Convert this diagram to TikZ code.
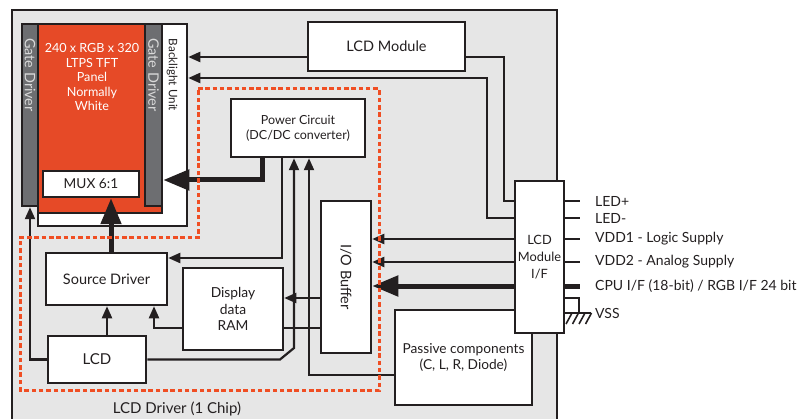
\documentclass[tikz,border=0pt]{standalone}
\usepackage{fontspec}
\setmainfont{Lato}
\usetikzlibrary{arrows.meta,positioning}
\definecolor{lcdInk}{HTML}{231F20}
\definecolor{lcdGrey}{HTML}{E6E6E6}
\definecolor{lcdRed}{HTML}{E64A27}
\definecolor{lcdGate}{HTML}{6D6E71}
\definecolor{lcdDash}{HTML}{F04E23}

\begin{document}
\begin{tikzpicture}[
  x=1pt,y=-1pt,
  >={Triangle[length=12pt,width=10pt]},
  block/.style={draw=lcdInk,fill=white,line width=2.5pt,inner sep=0pt,
                text=lcdInk,font=\fontsize{14.5}{15}\selectfont,align=center},
  label/.style={text=lcdInk,inner sep=0pt,font=\fontsize{14}{15}\selectfont},
  pin/.style={label,anchor=west},
  wire/.style={draw=lcdInk,line width=2.2pt},
  bus/.style={draw=lcdInk,line width=5pt,-{Triangle[length=26pt,width=20pt]}},
]
  \clip (0,0) rectangle (799,419);
  \draw[lcdInk,fill=lcdGrey,line width=2.5pt] (12,10) rectangle (557,440);

  \node[block,minimum width=149pt,minimum height=202pt] (bl) at (112.5,125) {};
  \node[block,fill=lcdRed,minimum width=124pt,minimum height=189pt] (panel) at (100,118.5) {};
  \node[block,fill=lcdGate,minimum width=16pt,minimum height=182pt] (gdl) at (30,115) {};
  \node[block,fill=lcdGate,minimum width=17pt,minimum height=182pt] (gdr) at (153.5,115) {};
  \node[label,rotate=-90,text=gray!30,font=\fontsize{14.4}{15}\selectfont] at (30,75) {Gate Driver};
  \node[label,rotate=-90,text=gray!30,font=\fontsize{14.4}{15}\selectfont] at (153.5,75) {Gate Driver};
  \node[label,rotate=-90,font=\fontsize{11.7}{14}\selectfont] at (172,75) {Backlight Unit};
  \node[label,text=white,align=center,font=\fontsize{12.6}{14.5}\selectfont] (spec) at (92,77)
    {240 x RGB x 320\\LTPS TFT\\Panel\\Normally\\White};
  \node[block,minimum width=96pt,minimum height=26pt,font=\fontsize{13.7}{15}\selectfont]
    (mux) at (91,184) {MUX 6:1};

  \node[block,minimum width=157pt,minimum height=49pt] (lcdmod) at (386.5,46.5) {LCD Module};
  \node[block,minimum width=134pt,minimum height=58pt,font=\fontsize{12.5}{15}\selectfont]
    (pwr) at (298,128) {Power Circuit\\(DC/DC converter)};
  \node[block,minimum width=121pt,minimum height=52pt] (src) at (106.5,279) {Source Driver};
  \node[block,minimum width=100pt,minimum height=82pt,font=\fontsize{13.8}{16.5}\selectfont]
    (ram) at (233,309) {Display\\data\\RAM};
  \node[block,minimum width=98pt,minimum height=47pt,font=\fontsize{15}{15}\selectfont]
    (lcd) at (97,359.5) {LCD};
  \node[block,minimum width=50pt,minimum height=152pt] (iob) at (346,277) {};
  \node[label,rotate=-90,font=\fontsize{14.5}{15}\selectfont] at (iob) {I/O Buffer};
  \node[block,minimum width=137pt,minimum height=95pt,font=\fontsize{13.7}{15.5}\selectfont]
    (pas) at (463.5,357.5) {Passive components\\(C, L, R, Diode)};
  \node[block,minimum width=49pt,minimum height=152pt,font=\fontsize{12.8}{17}\selectfont]
    (mif) at (539.5,257) {LCD\\Module\\I/F};

  \node[pin] (ledp) at (595,201) {LED+};
  \node[pin] (ledm) at (595,218) {LED-};
  \node[pin] (vdda) at (595,239) {VDD1 - Logic Supply};
  \node[pin] (vddb) at (595,262) {VDD2 - Analog Supply};
  \node[pin] (cpu)  at (595,286) {CPU I/F (18-bit) / RGB I/F 24 bit};
  \node[pin] (vss)  at (595,313) {VSS};

  \foreach \p in {ledp,ledm,vdda,vddb}
    \draw[wire] (mif.east |- \p) -- ++(15,0);
  \draw[wire,line width=5pt] (mif.east |- cpu) -- ++(15,0);
  \draw[wire] (mif.east |- 0,298) -| (579,313) coordinate (gnd);
  \draw[wire] ([xshift=-14pt]gnd) -- ++(26,0);
  \foreach \k in {0,...,3}
    \draw[wire,line width=1.6pt] ([xshift=-7pt+6.5pt*\k]gnd) -- ++(-6,11);

  \draw[wire,->] (lcdmod.west |- 0,57) -- (bl.east |- 0,57);
  \draw[wire] (mif.west |- ledp) -| (504,57) -- (lcdmod.east |- 0,57);
  \draw[wire,->] (mif.west |- ledm) -| (487,78) -- (bl.east |- 0,78);

  \draw[bus] (pwr.south -| 262,0) |- (gdr.east |- 0,180);
  \draw[bus] (src.north -| 111,0) -- (mux.south -| 111,0);
  \draw[wire,->] (pwr.south -| 282,0) |- (src.east |- 0,258);
  \draw[wire,->] (lcd.east) -- (280,359.5) -- (294,348) -- (pwr.south -| 294,0);
  \draw[wire,->] (pas.west |- 0,375) -| (pwr.south -| 309,0);
  \draw[wire,->] (lcd.north -| 107,0) -- (src.south -| 107,0);
  \draw[wire,->] (lcd.west) -| (gdl.south);
  \draw[wire,->] (ram.west |- 0,328) -| (src.south -| 154,0);
  \draw[wire,->] (iob.west |- 0,298) -- (ram.east |- 0,298);
  \draw[wire] (ram.east |- 0,328) -- (iob.west |- 0,328);
  \draw[wire,->] (mif.west |- vdda) -- (iob.east |- vdda);
  \draw[wire,->] (mif.west |- vddb) -- (iob.east |- vddb);
  \draw[bus] (mif.west |- cpu) -- (iob.east |- cpu);

  \draw[lcdDash,line width=3pt,dash pattern=on 4.5pt off 2.8pt]
    (198,89) -- (379,89) -- (379,390) -- (20,390) -- (20,238) -- (198,238) -- cycle;
  \node[label,font=\fontsize{15}{15}\selectfont] (chip) at (177,409) {LCD Driver (1 Chip)};
\end{tikzpicture}
\end{document}
